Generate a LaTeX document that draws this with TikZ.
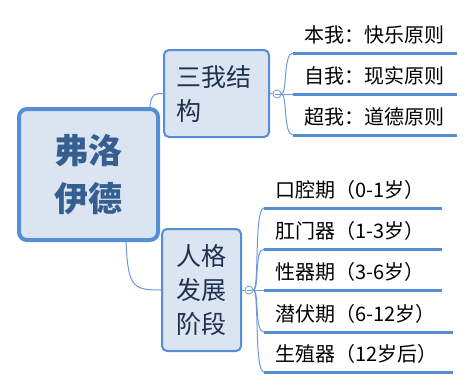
\documentclass[tikz,border=0pt]{standalone}
\usepackage{fontspec}
\setmainfont{Noto Sans CJK SC}
\usetikzlibrary{backgrounds}
\definecolor{bd}{HTML}{558ED5}
\definecolor{fl}{HTML}{DBE5F1}
\definecolor{rt}{HTML}{355E91}
\definecolor{bt}{HTML}{1F3150}
\definecolor{ln}{HTML}{6A9BD8}
\begin{document}
\begin{tikzpicture}[x=1pt,y=-1pt,
  rootbox/.style={draw=bd, line width=4pt, fill=fl, rounded corners=8pt,
    minimum width=139pt, minimum height=131pt, inner sep=0pt, text=rt,
    font=\fontsize{34}{48}\selectfont\bfseries, align=center},
  branchbox/.style={draw=bd, line width=2pt, fill=fl, rounded corners=5pt,
    inner ysep=0pt, text=bt, font=\fontsize{25}{34}\selectfont},
  leaf/.style={anchor=south west, minimum height=36pt, inner xsep=11pt,
    inner ysep=0pt, align=left, text=black, font=\fontsize{20}{24}\selectfont},
  uline/.style={draw=bd, line width=3pt},
  conn/.style={draw=ln, line width=1pt},
  circ/.style={circle, draw=ln, fill=white, line width=0.8pt, minimum size=8pt, inner sep=0pt}
]
\useasboundingbox (0,0) rectangle (474,389);

% root and branches
\node[rootbox] (root) at (88.5,174.5) {弗洛\\伊德};
\node[branchbox, minimum width=105pt, minimum height=87pt, text width=80pt,
  inner xsep=12.5pt, align=left] (b1) at (216.5,93.5) {三我结\\构};
\node[branchbox, minimum width=79pt, minimum height=122pt, inner xsep=0pt,
  align=center] (b2) at (201.5,290) {人格\\发展\\阶段};

\begin{scope}[on background layer]
  \draw[conn] (root.center) ++(60,0) .. controls +(0,-81) .. (b1.west);
  \draw[conn] (root.center) ++(37,0) .. controls +(0,115) .. (b2.west);
\end{scope}

% collapse circles
\node[circ] (c1) at (277,94) {};
\node[circ] (c2) at (249,290) {};
\draw[conn] (b1.east) -- (c1.west);
\draw[conn] (b2.east) -- (c2.west);
\draw[ln, line width=0.7pt] ([xshift=-2.5pt]c1.center) -- ([xshift=2.5pt]c1.center);
\draw[ln, line width=0.7pt] ([xshift=-2.5pt]c2.center) -- ([xshift=2.5pt]c2.center);

% group 1 leaves
\node[leaf, text width=142pt] (a1) at (293,53) {本我：快乐原则};
\node[leaf, text width=142pt] (a2) at (293,94) {自我：现实原则};
\node[leaf, text width=142pt] (a3) at (293,135) {超我：道德原则};

\draw[conn] (c1.east) .. controls +(6,0) and +(-10,0) .. (a1.south west);
\draw[conn] (c1.east) -- (a2.south west);
\draw[conn] (c1.east) .. controls +(6,0) and +(-10,0) .. (a3.south west);
\foreach \n in {a1,a2,a3} \draw[uline] (\n.south west) -- (\n.south east);

% group 2 leaves
\node[leaf, text width=156pt] (d1) at (264,208) {口腔期（0-1岁）};
\node[leaf, text width=156pt] (d2) at (264,249) {肛门器（1-3岁）};
\node[leaf, text width=156pt] (d3) at (264,290) {性器期（3-6岁）};
\node[leaf, text width=167pt] (d4) at (264,332) {潜伏期（6-12岁）};
\node[leaf, text width=167pt] (d5) at (264,372) {生殖器（12岁后）};

\draw[conn] (c2.east) .. controls +(6,0) and +(-10,0) .. (d1.south west);
\draw[conn] (c2.east) .. controls +(6,0) and +(-10,0) .. (d2.south west);
\draw[conn] (c2.east) -- (d3.south west);
\draw[conn] (c2.east) .. controls +(6,0) and +(-10,0) .. (d4.south west);
\draw[conn] (c2.east) .. controls +(6,0) and +(-10,0) .. (d5.south west);
\foreach \n in {d1,d2,d3,d4,d5} \draw[uline] (\n.south west) -- (\n.south east);
\end{tikzpicture}
\end{document}
